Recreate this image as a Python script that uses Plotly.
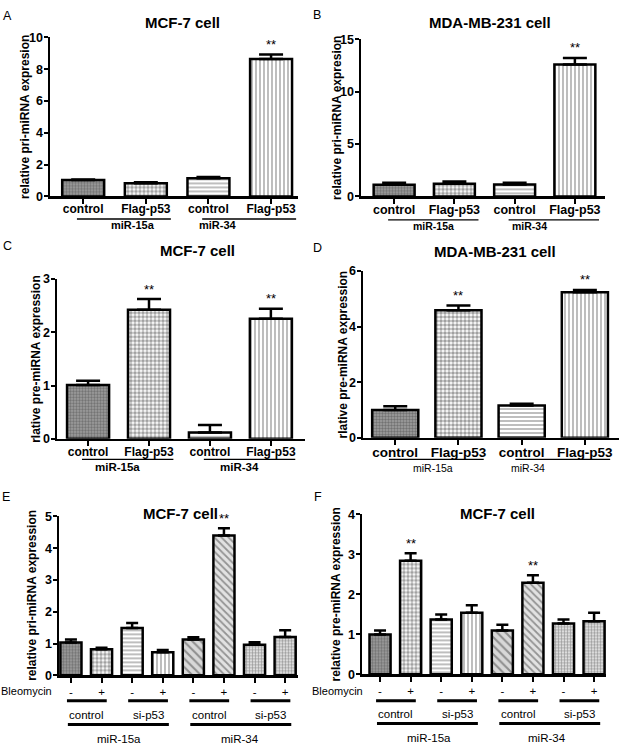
import plotly.graph_objects as go

W, H = 625, 754
FONT = "Liberation Sans, Arial, sans-serif"

# ---------------- data ----------------
cats_4 = ["control", "Flag-p53", "control", "Flag-p53"]
mir_groups = ["miR-15a", "miR-34"]
sub_groups = ["control", "si-p53", "control", "si-p53"]
bleo_signs = ["-", "+", "-", "+", "-", "+", "-", "+"]

a_vals = [1.03, 0.83, 1.15, 8.65]
a_err = [0.04, 0.06, 0.07, 0.28]
a_sig = ["", "", "", "**"]

b_vals = [1.12, 1.22, 1.15, 12.6]
b_err = [0.18, 0.2, 0.15, 0.63]
b_sig = ["", "", "", "**"]

c_vals = [1.01, 2.42, 0.12, 2.25]
c_err = [0.08, 0.2, 0.14, 0.19]
c_sig = ["", "**", "", "**"]

d_vals = [1.0, 4.59, 1.16, 5.24]
d_err = [0.14, 0.17, 0.07, 0.08]
d_sig = ["", "**", "", "**"]

e_vals = [1.03, 0.82, 1.49, 0.73, 1.13, 4.4, 0.96, 1.21]
e_err = [0.1, 0.05, 0.16, 0.07, 0.07, 0.23, 0.08, 0.21]
e_sig = ["", "", "", "", "", "**", "", ""]

f_vals = [1.0, 2.84, 1.37, 1.54, 1.1, 2.29, 1.27, 1.33]
f_err = [0.1, 0.19, 0.13, 0.19, 0.14, 0.19, 0.1, 0.21]
f_sig = ["", "**", "", "", "", "**", "", ""]

# ---------------- styles ----------------
PAT = {
    "dark":  dict(shape=".", fg="#3a3a3a", bg="#a0a0a0", size=3, sol=0.5),
    "check": dict(shape=".", fg="#000000", bg="#ffffff", size=4, sol=0.65),
    "horiz": dict(shape="-", fg="#8a8a8a", bg="#ffffff", size=4, sol=0.35),
    "vert":  dict(shape="|", fg="#8a8a8a", bg="#ffffff", size=4, sol=0.35),
    "diag":  dict(shape="\\", fg="#7a7a7a", bg="#d8d8d8", size=6, sol=0.35),
    "diag2": dict(shape="\\", fg="#8a8a8a", bg="#e2e2e2", size=5, sol=0.35),
    "grid":  dict(shape="+", fg="#333333", bg="#dcdcdc", size=3, sol=0.35),
    "dots":  dict(shape=".", fg="#8a8a8a", bg="#eeeeee", size=3, sol=0.5),
}
pats4 = ["dark", "check", "horiz", "vert"]
pats8 = ["dark", "check", "horiz", "vert", "diag", "diag2", "grid", "dots"]


def px(x):
    return x / W


def py(y):
    return 1 - y / H


panels = [
    dict(key="", vals=a_vals, err=a_err, sig=a_sig, pats=pats4, letter="A", letter_xy=(7, 9),
         title="MCF-7 cell", title_xy=(182, 16), xpx=(50, 298), ypx=(193, 31), ymax=10, dtick=2,
         xr=(-0.53, 3.43), bw=0.67, cap=12, ytitle="relative pri-miRNA expresion", ytx=25,
         line_y=216, glab_y=222, glab_x=[0.8, 2.15], tick_fs=12, glab_fs=11, glab_bold=True),
    dict(key="2", vals=b_vals, err=b_err, sig=b_sig, pats=pats4, letter="B", letter_xy=(317, 8),
         title="MDA-MB-231 cell", title_xy=(490, 16), xpx=(361, 605), ypx=(193, 33), ymax=15, dtick=5,
         xr=(-0.55, 3.5), bw=0.68, cap=12, ytitle="relative pri-miRNA expresion", ytx=337,
         line_y=217, glab_y=223, glab_x=[0.66, 2.24], tick_fs=12.5, glab_fs=10.5, glab_bold=True),
    dict(key="3", vals=c_vals, err=c_err, sig=c_sig, pats=pats4, letter="C", letter_xy=(7, 244),
         title="MCF-7 cell", title_xy=(197, 248), xpx=(57, 305), ypx=(440, 277), ymax=3, dtick=1,
         xr=(-0.51, 3.56), bw=0.69, cap=12, ytitle="rlative pre-miRNA expression", ytx=36,
         line_y=461, glab_y=469, glab_x=[0.49, 2.49], tick_fs=12, glab_fs=11.5, glab_bold=True),
    dict(key="4", vals=d_vals, err=d_err, sig=d_sig, pats=pats4, letter="D", letter_xy=(317, 246),
         title="MDA-MB-231 cell", title_xy=(495, 249), xpx=(363, 619), ypx=(439, 269), ymax=6, dtick=2,
         xr=(-0.51, 3.54), bw=0.73, cap=12, ytitle="rlative pre-miRNA expression", ytx=343,
         line_y=461, glab_y=470, glab_x=[0.6, 2.1], tick_fs=13.5, glab_fs=10.5, glab_bold=False),
    dict(key="5", vals=e_vals, err=e_err, sig=e_sig, pats=pats8, letter="E", letter_xy=(6, 499),
         title="MCF-7 cell", title_xy=(180, 516), xpx=(59, 298), ypx=(681, 519), ymax=5, dtick=1,
         xr=(-0.39, 7.42), bw=0.69, cap=6, ytitle="relative pri-miRNA expression", ytx=32,
         bleo_x=54, sign_y=697, l1_y=707, sub_y=721, l2_y=731, mir_y=746, mir_x=[1.57, 5.52]),
    dict(key="6", vals=f_vals, err=f_err, sig=f_sig, pats=pats8, letter="F", letter_xy=(318, 499),
         title="MCF-7 cell", title_xy=(497, 516), xpx=(362, 606), ypx=(680, 517), ymax=4, dtick=1,
         xr=(-0.59, 7.39), bw=0.69, cap=6, ytitle="relative pre-miRNA expression", ytx=336,
         bleo_x=365, sign_y=697, l1_y=707, sub_y=720, l2_y=730, mir_y=745, mir_x=[1.6, 5.46]),
]

fig = go.Figure()
layout = dict(width=W, height=H, margin=dict(l=0, r=0, t=0, b=0),
              paper_bgcolor="white", plot_bgcolor="white", showlegend=False,
              font=dict(family=FONT, color="black"), bargap=0)
annotations = []
shapes = []

for p in panels:
    k = p["key"]
    xname, yname = "x" + k, "y" + k
    n = len(p["vals"])
    xs = list(range(n))
    pats = [PAT[s] for s in p["pats"]]
    fig.add_trace(go.Bar(
        x=xs, y=p["vals"], width=p["bw"], xaxis=xname, yaxis=yname,
        marker=dict(
            color=[q["bg"] for q in pats],
            line=dict(color="black", width=2.5),
            pattern=dict(shape=[q["shape"] for q in pats],
                         fgcolor=[q["fg"] for q in pats],
                         bgcolor=[q["bg"] for q in pats],
                         size=[q["size"] for q in pats],
                         solidity=[q["sol"] for q in pats]),
        ),
        error_y=dict(type="data", array=p["err"], arrayminus=[0] * n, symmetric=False,
                     color="black", thickness=2.5, width=p["cap"]),
        hoverinfo="skip",
    ))
    xl = "xaxis" + k
    yl = "yaxis" + k
    x0, x1 = p["xpx"]
    yb, yt = p["ypx"]
    xaxis = dict(domain=[px(x0), px(x1)], anchor=yname, range=list(p["xr"]),
                 showline=True, linecolor="black", linewidth=2.5, ticks="outside",
                 ticklen=5, tickwidth=2, tickcolor="black", tickvals=xs,
                 showgrid=False, zeroline=False, fixedrange=True)
    if n == 4:
        xaxis.update(ticktext=cats_4, ticklabelstandoff=-5,
                     tickfont=dict(family=FONT, size=p["tick_fs"], weight="bold"))
    else:
        xaxis.update(ticktext=bleo_signs, ticklabelstandoff=-1,
                     tickfont=dict(family=FONT, size=11.5))
    layout[xl] = xaxis
    layout[yl] = dict(domain=[py(yb), py(yt)], anchor=xname, range=[0, p["ymax"]],
                      tickvals=list(range(0, p["ymax"] + 1, p["dtick"])),
                      showline=True, linecolor="black", linewidth=2.5, ticks="outside",
                      ticklen=4, tickwidth=2, tickcolor="black", showgrid=False,
                      zeroline=False, fixedrange=True, ticklabelstandoff=-2,
                      tickfont=dict(family=FONT, size=12.5, weight="bold"))

    annotations.append(dict(text=p["letter"], xref="paper", yref="paper",
                            x=px(p["letter_xy"][0]), y=py(p["letter_xy"][1]),
                            xanchor="center", yanchor="middle", showarrow=False,
                            font=dict(family=FONT, size=12.5)))
    annotations.append(dict(text=p["title"], xref="paper", yref="paper",
                            x=px(p["title_xy"][0]), y=py(p["title_xy"][1]),
                            xanchor="center", yanchor="middle", showarrow=False,
                            font=dict(family=FONT, size=15, weight="bold")))
    annotations.append(dict(text=p["ytitle"], xref="paper", yref="paper",
                            x=px(p["ytx"]), y=py((yb + yt) / 2), textangle=-90,
                            xanchor="center", yanchor="middle", showarrow=False,
                            font=dict(family=FONT, size=12, weight="bold")))
    for i, s in enumerate(p["sig"]):
        if s:
            annotations.append(dict(text=s, xref=xname, yref=yname, x=xs[i],
                                    y=p["vals"][i] + p["err"][i], yshift=10,
                                    xanchor="center", yanchor="middle", showarrow=False,
                                    font=dict(family=FONT, size=13)))

    if n == 4:
        for g, name in enumerate(mir_groups):
            shapes.append(dict(type="line", xref=xname, yref="paper",
                               x0=2 * g - 0.1, x1=2 * g + 1.4,
                               y0=py(p["line_y"]), y1=py(p["line_y"]),
                               line=dict(color="black", width=1.3)))
            annotations.append(dict(text=name, xref=xname, yref="paper",
                                    x=p["glab_x"][g], y=py(p["glab_y"]),
                                    xanchor="center", yanchor="middle", showarrow=False,
                                    font=dict(family=FONT, size=p["glab_fs"],
                                              weight="bold" if p["glab_bold"] else "normal")))
    else:
        annotations.append(dict(text="Bleomycin", xref="paper", yref="paper",
                                x=px(p["bleo_x"]), y=py(p["sign_y"]),
                                xanchor="right", yanchor="middle", showarrow=False,
                                font=dict(family=FONT, size=11)))
        for j, name in enumerate(sub_groups):
            shapes.append(dict(type="line", xref=xname, yref="paper",
                               x0=2 * j - 0.13, x1=2 * j + 1.17,
                               y0=py(p["l1_y"]), y1=py(p["l1_y"]),
                               line=dict(color="black", width=3)))
            annotations.append(dict(text=name, xref=xname, yref="paper",
                                    x=2 * j + 0.52, y=py(p["sub_y"]),
                                    xanchor="center", yanchor="middle", showarrow=False,
                                    font=dict(family=FONT, size=11.5)))
        for g, name in enumerate(mir_groups):
            shapes.append(dict(type="line", xref=xname, yref="paper",
                               x0=4 * g - 0.1, x1=4 * g + 3.2,
                               y0=py(p["l2_y"]), y1=py(p["l2_y"]),
                               line=dict(color="black", width=3)))
            annotations.append(dict(text=name, xref=xname, yref="paper",
                                    x=p["mir_x"][g], y=py(p["mir_y"]),
                                    xanchor="center", yanchor="middle", showarrow=False,
                                    font=dict(family=FONT, size=11.5)))

layout["annotations"] = annotations
layout["shapes"] = shapes
fig.update_layout(**layout)
fig.write_html(
    "out.html",
    config={"displayModeBar": False, "staticPlot": True},
    post_script=("document.documentElement.style.overflow='hidden';"
                 "document.body.style.margin='0';"
                 "document.body.style.overflow='hidden';"
                 "document.body.style.height='754px';"),
)
